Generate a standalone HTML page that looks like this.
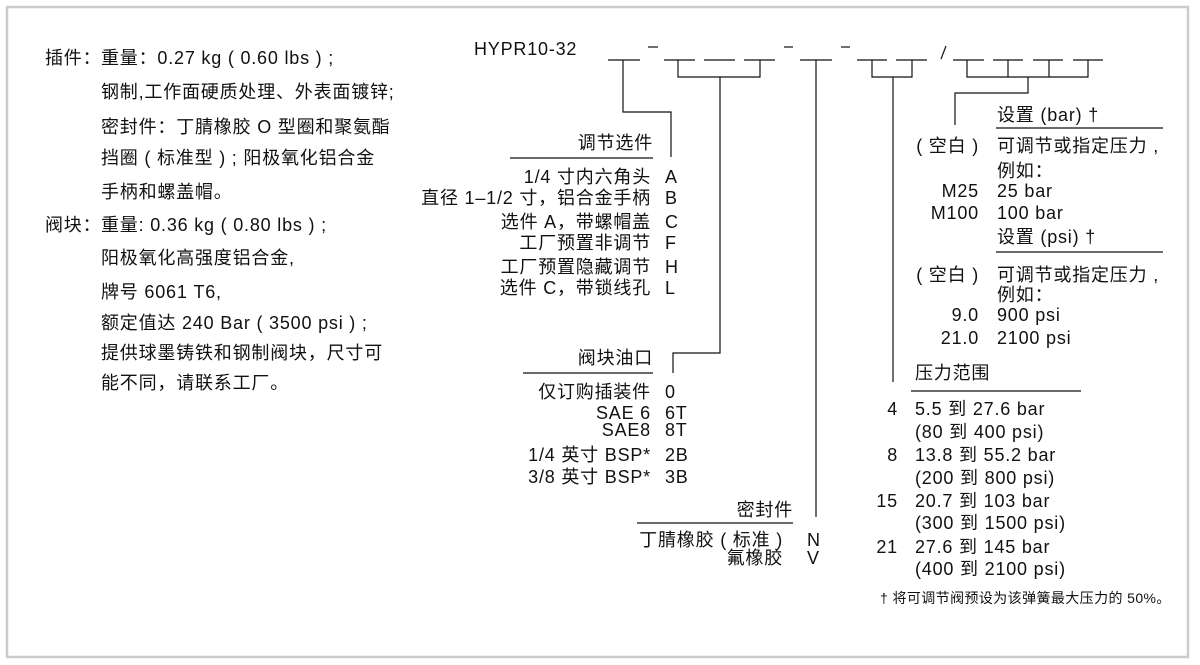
<!DOCTYPE html>
<html><head><meta charset="utf-8"><style>
html,body{margin:0;padding:0;background:#fff;}
#c{position:relative;width:1200px;height:665px;overflow:hidden;font-family:"Liberation Sans","Noto Sans CJK SC",sans-serif;font-size:18px;letter-spacing:0.8px;color:#111;}
.t{position:absolute;line-height:20px;white-space:nowrap;}
.r{text-align:right;}
svg{position:absolute;left:0;top:0;}
</style></head><body><div id="c">
<svg width="1200" height="665" viewBox="0 0 1200 665">
<rect x="7" y="7" width="1181" height="650" fill="none" stroke="#cccccc" stroke-width="2.5"/>
<g stroke="#111" stroke-width="1.2" fill="none">
<line x1="608" y1="60" x2="640" y2="60"/>
<line x1="664" y1="60" x2="695" y2="60"/>
<line x1="704" y1="60" x2="735" y2="60"/>
<line x1="744" y1="60" x2="775" y2="60"/>
<line x1="800" y1="60" x2="832" y2="60"/>
<line x1="857" y1="60" x2="887" y2="60"/>
<line x1="896" y1="60" x2="927" y2="60"/>
<line x1="953" y1="60" x2="984" y2="60"/>
<line x1="993" y1="60" x2="1023" y2="60"/>
<line x1="1033" y1="60" x2="1063" y2="60"/>
<line x1="1073" y1="60" x2="1103" y2="60"/>
<line x1="648" y1="47" x2="658" y2="47"/>
<line x1="784" y1="47" x2="793" y2="47"/>
<line x1="841" y1="47" x2="850" y2="47"/>
<line x1="946" y1="46" x2="941" y2="59"/>
<polyline points="623,60 623,112 671,112 671,157"/>
<polyline points="678,60 678,77 760,77 760,60"/>
<polyline points="720,77 720,353 673,353 673,373"/>
<line x1="816" y1="60" x2="816" y2="517"/>
<polyline points="872,60 872,77 912,77 912,60"/>
<line x1="893" y1="77" x2="893" y2="382"/>
<polyline points="967,60 967,77 1088,77 1088,60"/>
<line x1="1008" y1="60" x2="1008" y2="77"/>
<line x1="1049" y1="60" x2="1049" y2="77"/>
<polyline points="1028,77 1028,93 955,93 955,125"/>
<line x1="510" y1="158" x2="653" y2="158"/>
<line x1="523" y1="373" x2="653" y2="373"/>
<line x1="637" y1="523" x2="793" y2="523"/>
<line x1="996" y1="128" x2="1163" y2="128"/>
<line x1="996" y1="252" x2="1163" y2="252"/>
<line x1="911" y1="391" x2="1081" y2="391"/>
</g>
</svg>

<div class="t" style="left:45px;top:48px">插件：</div>
<div class="t" style="left:101px;top:48px">重量：0.27 kg ( 0.60 lbs ) ;</div>
<div class="t" style="left:101px;top:82px">钢制,工作面硬质处理、外表面镀锌;</div>
<div class="t" style="left:101px;top:117px">密封件：丁腈橡胶 O 型圈和聚氨酯</div>
<div class="t" style="left:101px;top:148px">挡圈 ( 标准型 ) ; 阳极氧化铝合金</div>
<div class="t" style="left:101px;top:182px">手柄和螺盖帽。</div>
<div class="t" style="left:45px;top:215px">阀块：</div>
<div class="t" style="left:101px;top:215px">重量: 0.36 kg ( 0.80 lbs ) ;</div>
<div class="t" style="left:101px;top:248px">阳极氧化高强度铝合金,</div>
<div class="t" style="left:101px;top:282px">牌号 6061 T6,</div>
<div class="t" style="left:101px;top:313px">额定值达 240 Bar ( 3500 psi ) ;</div>
<div class="t" style="left:101px;top:343px">提供球墨铸铁和钢制阀块，尺寸可</div>
<div class="t" style="left:101px;top:373px">能不同，请联系工厂。</div>

<div class="t" style="left:474px;top:39px">HYPR10-32</div>

<div class="t r" style="right:547px;top:133px">调节选件</div>
<div class="t r" style="right:549px;top:167px">1/4 寸内六角头</div>
<div class="t r" style="right:549px;top:188px">直径 1–1/2 寸，铝合金手柄</div>
<div class="t r" style="right:549px;top:212px">选件 A，带螺帽盖</div>
<div class="t r" style="right:549px;top:233px">工厂预置非调节</div>
<div class="t r" style="right:549px;top:257px">工厂预置隐藏调节</div>
<div class="t r" style="right:549px;top:278px">选件 C，带锁线孔</div>
<div class="t" style="left:665px;top:167px">A</div>
<div class="t" style="left:665px;top:188px">B</div>
<div class="t" style="left:665px;top:212px">C</div>
<div class="t" style="left:665px;top:233px">F</div>
<div class="t" style="left:665px;top:257px">H</div>
<div class="t" style="left:665px;top:278px">L</div>

<div class="t r" style="right:547px;top:348px">阀块油口</div>
<div class="t r" style="right:549px;top:382px">仅订购插装件</div>
<div class="t r" style="right:549px;top:403px">SAE 6</div>
<div class="t r" style="right:549px;top:420px">SAE8</div>
<div class="t r" style="right:549px;top:445px">1/4 英寸 BSP*</div>
<div class="t r" style="right:549px;top:467px">3/8 英寸 BSP*</div>
<div class="t" style="left:665px;top:382px">0</div>
<div class="t" style="left:665px;top:403px">6T</div>
<div class="t" style="left:665px;top:420px">8T</div>
<div class="t" style="left:665px;top:445px">2B</div>
<div class="t" style="left:665px;top:467px">3B</div>

<div class="t r" style="right:407px;top:500px">密封件</div>
<div class="t r" style="right:417px;top:530px">丁腈橡胶 ( 标准 )</div>
<div class="t r" style="right:417px;top:548px">氟橡胶</div>
<div class="t" style="left:807px;top:530px">N</div>
<div class="t" style="left:807px;top:548px">V</div>

<div class="t" style="left:997px;top:105px">设置 (bar) †</div>
<div class="t r" style="right:221px;top:136px">( 空白 )</div>
<div class="t" style="left:997px;top:136px">可调节或指定压力 ,</div>
<div class="t" style="left:997px;top:161px">例如：</div>
<div class="t r" style="right:221px;top:181px">M25</div>
<div class="t" style="left:997px;top:181px">25 bar</div>
<div class="t r" style="right:221px;top:203px">M100</div>
<div class="t" style="left:997px;top:203px">100 bar</div>
<div class="t" style="left:997px;top:227px">设置 (psi) †</div>
<div class="t r" style="right:221px;top:265px">( 空白 )</div>
<div class="t" style="left:997px;top:265px">可调节或指定压力 ,</div>
<div class="t" style="left:997px;top:285px">例如：</div>
<div class="t r" style="right:221px;top:305px">9.0</div>
<div class="t" style="left:997px;top:305px">900 psi</div>
<div class="t r" style="right:221px;top:328px">21.0</div>
<div class="t" style="left:997px;top:328px">2100 psi</div>

<div class="t" style="left:915px;top:363px">压力范围</div>
<div class="t r" style="right:302px;top:399px">4</div>
<div class="t" style="left:915px;top:399px">5.5 到 27.6 bar</div>
<div class="t" style="left:915px;top:422px">(80 到 400 psi)</div>
<div class="t r" style="right:302px;top:445px">8</div>
<div class="t" style="left:915px;top:445px">13.8 到 55.2 bar</div>
<div class="t" style="left:915px;top:468px">(200 到 800 psi)</div>
<div class="t r" style="right:302px;top:491px">15</div>
<div class="t" style="left:915px;top:491px">20.7 到 103 bar</div>
<div class="t" style="left:915px;top:513px">(300 到 1500 psi)</div>
<div class="t r" style="right:302px;top:537px">21</div>
<div class="t" style="left:915px;top:537px">27.6 到 145 bar</div>
<div class="t" style="left:915px;top:559px">(400 到 2100 psi)</div>
<div class="t" style="left:880px;top:590px;font-size:14px;letter-spacing:0.4px;line-height:16px">† 将可调节阀预设为该弹簧最大压力的 50%。</div>
</div></body></html>
